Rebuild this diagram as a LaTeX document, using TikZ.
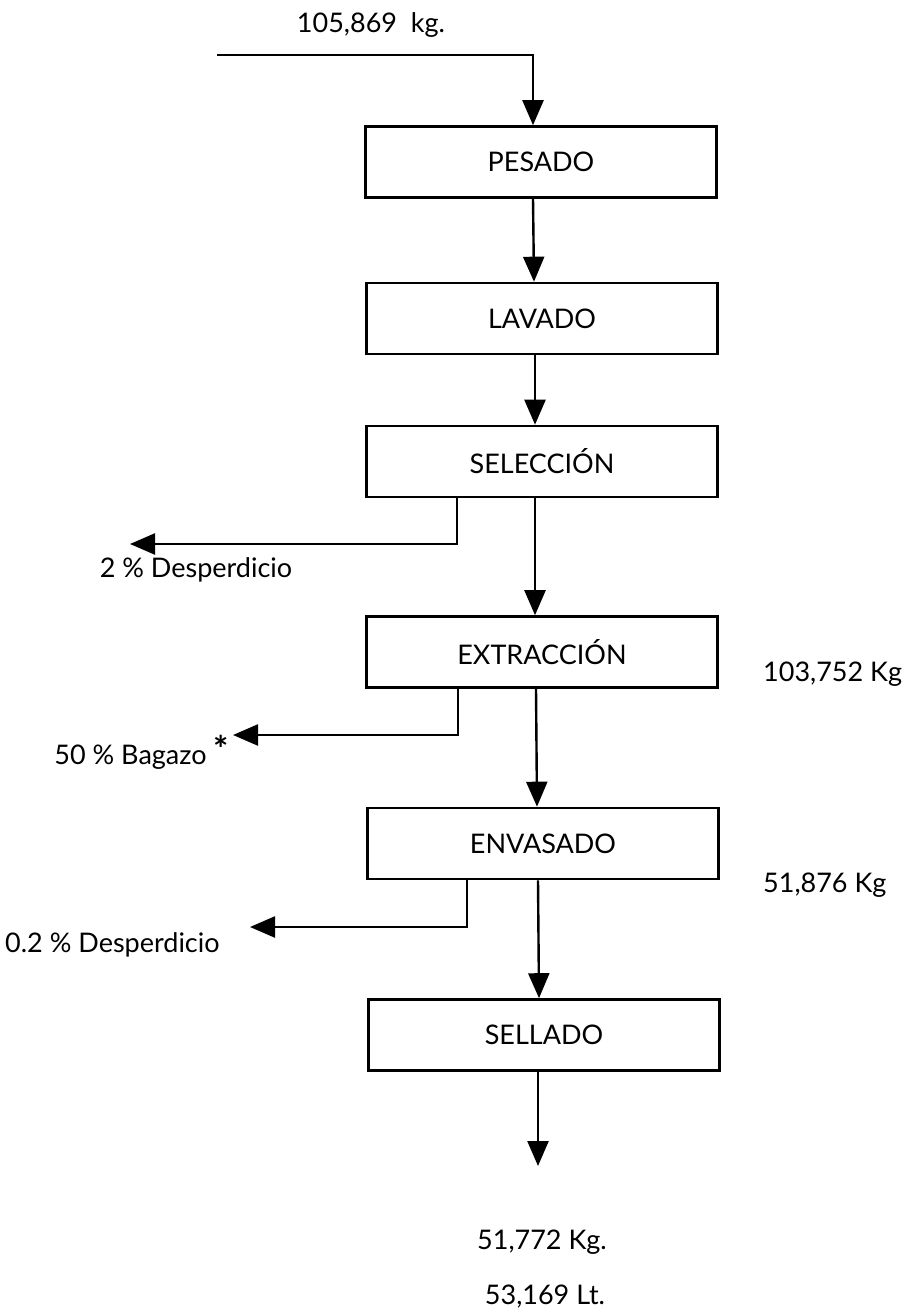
\documentclass[tikz,border=0pt]{standalone}
\usepackage{fontspec}
\setmainfont{Lato}
\usetikzlibrary{arrows.meta}
\begin{document}
\begin{tikzpicture}[x=1pt,y=-1pt,
  proc/.style={draw, line width=2.6pt, minimum width=351pt, minimum height=71pt, inner sep=0pt, font=\fontsize{27}{30}\selectfont},
  lbl/.style={font=\fontsize{27}{30}\selectfont, inner sep=0pt},
  flow/.style={line width=2.4pt, -{Triangle[width=21pt,length=25pt]}}]
\useasboundingbox (0,0) rectangle (913,1313);

\node[proc] (pes) at (541,162) {PESADO};
\node[proc] (lav) at (542,318.5) {LAVADO};
\node[proc] (sel) at (542,461.5) {SELECCIÓN};
\node[proc] (ext) at (542,652) {EXTRACCIÓN};
\node[proc] (env) at (543,843.5) {ENVASADO};
\node[proc] (sll) at (544,1035) {SELLADO};

\node[lbl] (top) at (371,25) {105,869\ \ kg.};
\coordinate (in) at (217,55);
\draw[flow] (in) -| ([xshift=-8pt]pes.north);

\draw[flow] ([xshift=-8pt]pes.south) -- ([xshift=-8pt]lav.north);
\draw[flow] ([xshift=-7pt]lav.south) -- ([xshift=-7pt]sel.north);
\draw[flow] ([xshift=-7pt]sel.south) -- ([xshift=-7pt]ext.north);
\draw[flow] ([xshift=-6pt]ext.south) -- ([xshift=-6pt]env.north);
\draw[flow] ([xshift=-5pt]env.south) -- ([xshift=-5pt]sll.north);
\coordinate (out) at (538,1166);
\draw[flow] ([xshift=-6pt]sll.south) -- (out);

\coordinate (w1) at (130,544);
\coordinate (w2) at (233,735);
\coordinate (w3) at (250,927);
\draw[flow] ([xshift=-85pt]sel.south) |- (w1);
\draw[flow] ([xshift=-84pt]ext.south) |- (w2);
\draw[flow] ([xshift=-76pt]env.south) |- (w3);

\node[lbl] (l1) at (196,570) {2 \% Desperdicio};
\node[lbl, anchor=east] (l2) at (229,752) {50 \% Bagazo {\fontsize{36}{36}\selectfont\bfseries\raisebox{0.05em}{*}}};
\node[lbl, anchor=west] (l3) at (5,945) {0.2 \% Desperdicio};

\node[lbl, anchor=west] (r1) at (763,674) {103,752 Kg};
\node[lbl, anchor=west] (r2) at (763,885) {51,876 Kg};

\node[lbl] (o1) at (542,1242) {51,772 Kg.};
\node[lbl] (o2) at (545,1297) {53,169 Lt.};
\end{tikzpicture}
\end{document}
